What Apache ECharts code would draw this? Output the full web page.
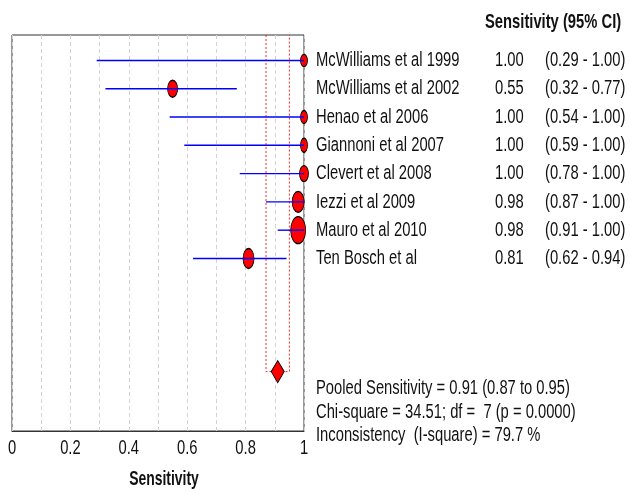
<!DOCTYPE html>
<html>
<head>
<meta charset="utf-8">
<script src="https://cdn.jsdelivr.net/npm/echarts@6/dist/echarts.min.js"></script>
<style>html,body{margin:0;padding:0;background:#fff}#c{width:630px;height:494px}</style>
</head>
<body>
<div id="c"></div>
<script>
// ---- data ----
const studies = ['McWilliams et al 1999','McWilliams et al 2002','Henao et al 2006','Giannoni et al 2007','Clevert et al 2008','Iezzi et al 2009','Mauro et al 2010','Ten Bosch et al'];
const sens   = [1.00, 0.55, 1.00, 1.00, 1.00, 0.98, 0.98, 0.81];
const ciLow  = [0.29, 0.32, 0.54, 0.59, 0.78, 0.87, 0.91, 0.62];
const ciHigh = [1.00, 0.77, 1.00, 1.00, 1.00, 1.00, 1.00, 0.94];
const pooledSens = 0.91, pooledLow = 0.87, pooledHigh = 0.95;
const chiSquare = '34.51', df = 7, pValue = '0.0000', iSquare = '79.7';
const xTickValues = [0, 0.2, 0.4, 0.6, 0.8, 1];
const xTickLabels = ['0','0.2','0.4','0.6','0.8','1'];
const headerText = 'Sensitivity (95% CI)';
const axisTitle = 'Sensitivity';

// ---- style ----
const FONT = "'Liberation Sans',Arial,sans-serif";
const SX = 0.82, SY = 1.15; // squeeze to imitate the tall narrow font of the original
const markerSizes = [[7,12],[10,17],[7,13],[7,14],[9,16],[12,21],[15,27],[11,20]];
const pooledRow = 11;
const yMin = -0.9, yMax = 13.1;

const fmt = v => v.toFixed(2);
const txt = (text, left, top, font, align) => ({
  type: 'text', x: left, y: top, scaleX: SX, scaleY: SY, silent: true,
  style: { text: text, font: font, fill: '#111', textAlign: align || 'left', align: align || 'left',
           textVerticalAlign: 'middle', verticalAlign: 'middle' }
});

const chart = echarts.init(document.getElementById('c'));
const option = {
  animation: false,
  textStyle: { fontFamily: FONT },
  grid: { left: 12, right: 326, top: 35, bottom: 63, show: true, borderColor: '#333', borderWidth: 1 },
  xAxis: {
    type: 'value', min: 0, max: 1, interval: 0.1,
    axisLine: { show: true, onZero: false, lineStyle: { color: '#333', width: 1 } },
    axisTick: { show: false },
    axisLabel: { show: false },
    splitLine: { show: true, lineStyle: { color: '#d2d2d2', type: [4, 3], width: 1 } }
  },
  yAxis: { type: 'value', min: yMin, max: yMax, inverse: true, show: false },
  graphic: [
    txt(headerText, 485, 22, "bold 18px " + FONT),
    txt('Pooled Sensitivity = ' + fmt(pooledSens) + ' (' + fmt(pooledLow) + ' to ' + fmt(pooledHigh) + ')', 316, 388, "18px " + FONT),
    txt('Chi-square = ' + chiSquare + '; df =  ' + df + ' (p = ' + pValue + ')', 316, 412, "18px " + FONT),
    txt('Inconsistency  (I-square) = ' + iSquare + ' %', 316, 435, "18px " + FONT),
    txt(axisTitle, 164, 480, "bold 17px " + FONT, 'center')
  ],
  series: [
    { // pooled CI dashed outline
      type: 'line', z: 3, symbol: 'none', silent: true,
      data: [[pooledLow, yMin], [pooledLow, pooledRow], [pooledHigh, pooledRow], [pooledHigh, yMin]],
      lineStyle: { color: '#ff0000', width: 1, type: [2, 2], opacity: 0.85 }
    },
    { // study markers
      type: 'scatter', z: 4, symbol: 'circle',
      data: sens.map((v, i) => ({ value: [v, i], symbolSize: markerSizes[i] })),
      itemStyle: { color: '#ff0000', borderColor: '#000', borderWidth: 1, opacity: 1 }
    },
    { // CI lines
      type: 'custom', z: 5,
      data: studies.map((s, i) => [ciLow[i], ciHigh[i], i]),
      renderItem: (params, api) => {
        const a = api.coord([api.value(0), api.value(2)]);
        const b = api.coord([api.value(1), api.value(2)]);
        return { type: 'line', shape: { x1: a[0], y1: a[1], x2: b[0], y2: b[1] }, style: { stroke: '#0000ff', lineWidth: 1.4 } };
      }
    },
    { // pooled diamond
      type: 'scatter', z: 6, symbol: 'diamond', symbolSize: [13, 22],
      data: [[pooledSens, pooledRow]],
      itemStyle: { color: '#ff0000', borderColor: '#000', borderWidth: 1, opacity: 1 }
    },
    { // x tick labels, placed via the x scale
      type: 'custom', z: 7, clip: false,
      data: xTickValues.map(v => [v, yMax]),
      renderItem: (params, api) => {
        const p = api.coord([api.value(0), api.value(1)]);
        return txt(xTickLabels[params.dataIndex], p[0], p[1] + 17, "18px " + FONT, 'center');
      }
    },
    { // right-hand text columns
      type: 'custom', z: 7, clip: false,
      data: studies.map((s, i) => [1, i]),
      renderItem: (params, api) => {
        const i = params.dataIndex;
        const p = api.coord([1, api.value(1)]);
        const f = "18px " + FONT;
        return { type: 'group', children: [
          txt(studies[i], p[0] + 12, p[1], f),
          txt(fmt(sens[i]), p[0] + 191, p[1], f),
          txt('(' + fmt(ciLow[i]) + ' - ' + fmt(ciHigh[i]) + ')', p[0] + 241, p[1], f)
        ]};
      }
    }
  ]
};
chart.setOption(option);
</script>
</body>
</html>
